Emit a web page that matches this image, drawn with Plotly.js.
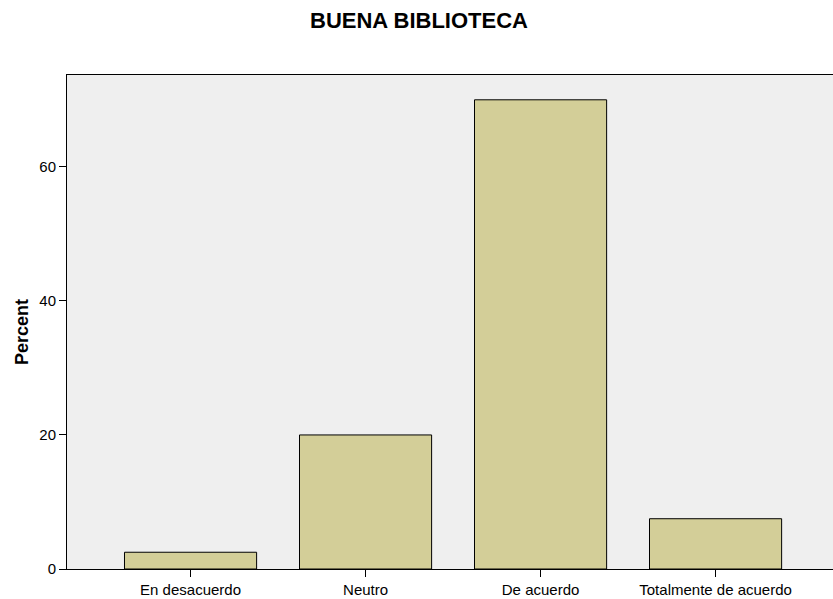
<!DOCTYPE html>
<html>
<head>
<meta charset="utf-8">
<script src="https://cdn.plot.ly/plotly-3.0.1.min.js"></script>
<style>html,body{margin:0;padding:0;background:#fff;}#chart{width:833px;height:599px;}</style>
</head>
<body>
<div id="chart"></div>
<script>
const categories = ["En desacuerdo", "Neutro", "De acuerdo", "Totalmente de acuerdo"];
const percents = [2.5, 20.0, 70.0, 7.5];
const yTicks = [0, 20, 40, 60];

const trace = {
  type: 'bar',
  x: categories,
  y: percents,
  marker: {color: '#d3ce98', line: {color: '#000000', width: 1}},
  hoverinfo: 'x+y'
};

const layout = {
  width: 833, height: 599,
  margin: {l: 67, r: 0, t: 75, b: 30, pad: 0},
  paper_bgcolor: '#ffffff',
  plot_bgcolor: '#efefef',
  bargap: 0.245,
  showlegend: false,
  font: {family: 'Liberation Sans, Arial, sans-serif', size: 15, color: '#000'},
  title: {
    text: '<b>BUENA BIBLIOTECA</b>',
    font: {family: 'Liberation Sans, Arial, sans-serif', size: 22, color: '#000'},
    x: 419/833, xanchor: 'center', xref: 'container',
    y: 1 - 20/599, yanchor: 'middle', yref: 'container'
  },
  xaxis: {
    type: 'category',
    range: [-0.706, 3.671],
    showline: true, linecolor: '#000', linewidth: 1, mirror: true,
    ticks: 'outside', ticklen: 7, tickcolor: '#000', tickwidth: 1,
    showgrid: false, zeroline: false,
    tickfont: {size: 15}
  },
  yaxis: {
    range: [0, 73.7],
    tickvals: yTicks,
    ticktext: yTicks.map(String),
    showline: true, linecolor: '#000', linewidth: 1, mirror: false,
    ticks: 'outside', ticklen: 7, tickcolor: '#000', tickwidth: 1,
    showgrid: false, zeroline: false,
    tickfont: {size: 15}
  },
  annotations: [{
    text: '<b>Percent</b>',
    textangle: -90,
    font: {size: 18, color: '#000'},
    xref: 'paper', yref: 'paper',
    x: (22 - 67) / 766, y: (569 - 332) / 494,
    xanchor: 'center', yanchor: 'middle',
    showarrow: false
  }]
};

Plotly.newPlot('chart', [trace], layout, {displayModeBar: false, staticPlot: true});
</script>
</body>
</html>
